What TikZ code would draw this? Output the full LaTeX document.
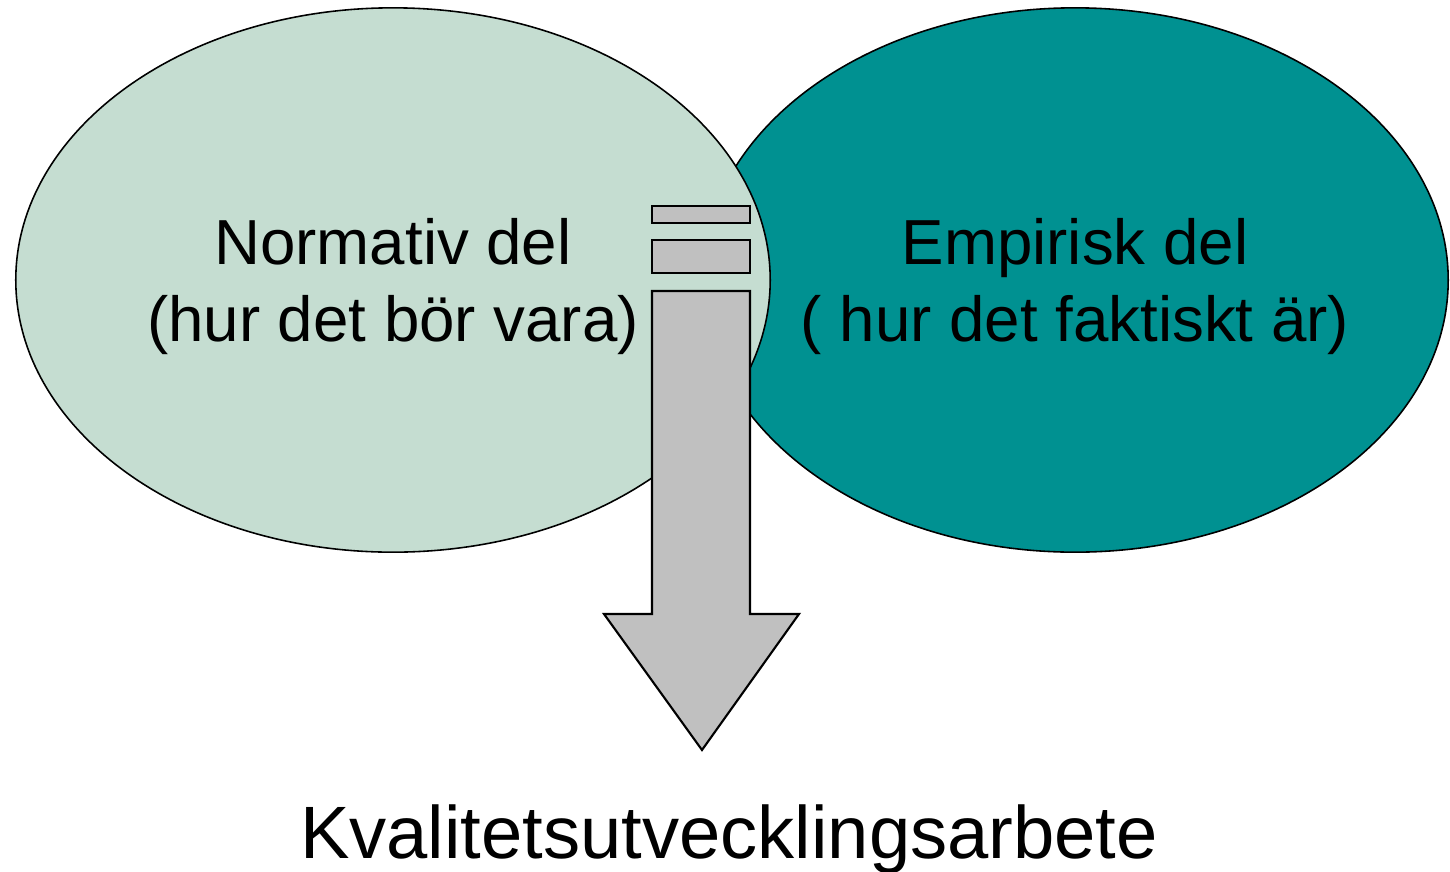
\documentclass[tikz,border=0pt]{standalone}
\usepackage{fontspec}
\setmainfont{Liberation Sans}
\usetikzlibrary{shapes.geometric}
\definecolor{normgreen}{HTML}{C5DDD1}
\definecolor{empteal}{HTML}{009191}
\definecolor{arrowgray}{HTML}{C0C0C0}
\tikzset{
  oval/.style={ellipse,draw,line width=0.45pt,inner sep=0pt,minimum height=5.44cm},
  ovaltext/.style={align=center,font=\fontsize{18.1pt}{21.9pt}\selectfont},
  graybox/.style={draw,fill=arrowgray,line width=0.6pt,line join=miter}
}
\begin{document}
\begin{tikzpicture}[x=0.01cm,y=-0.01cm]
        \useasboundingbox (0,0) rectangle (1450,872);
        \node[oval,fill=empteal,minimum width=7.46cm] (emp) at (1075,280) {};
        \node[oval,fill=normgreen,minimum width=7.54cm] (norm) at (393,280) {};
        \node[ovaltext] (normtext) at (393,287) {Normativ del\\(hur det bör vara)};
        \node[ovaltext] (emptext) at (1075,287) {Empirisk del\\( hur det faktiskt är)};
        \draw[graybox] (652,206) rectangle (750,223);
        \draw[graybox] (652,240) rectangle (750,273);
        \draw[graybox] (652,291) -- (750,291) -- (750,614) -- (799,614) -- (702,750) -- (604,614) -- (652,614) -- cycle;
        \node[anchor=base,font=\fontsize{21.1pt}{25pt}\selectfont] (kval) at (729,858) {Kvalitetsutvecklingsarbete};
    \end{tikzpicture}
\end{document}
